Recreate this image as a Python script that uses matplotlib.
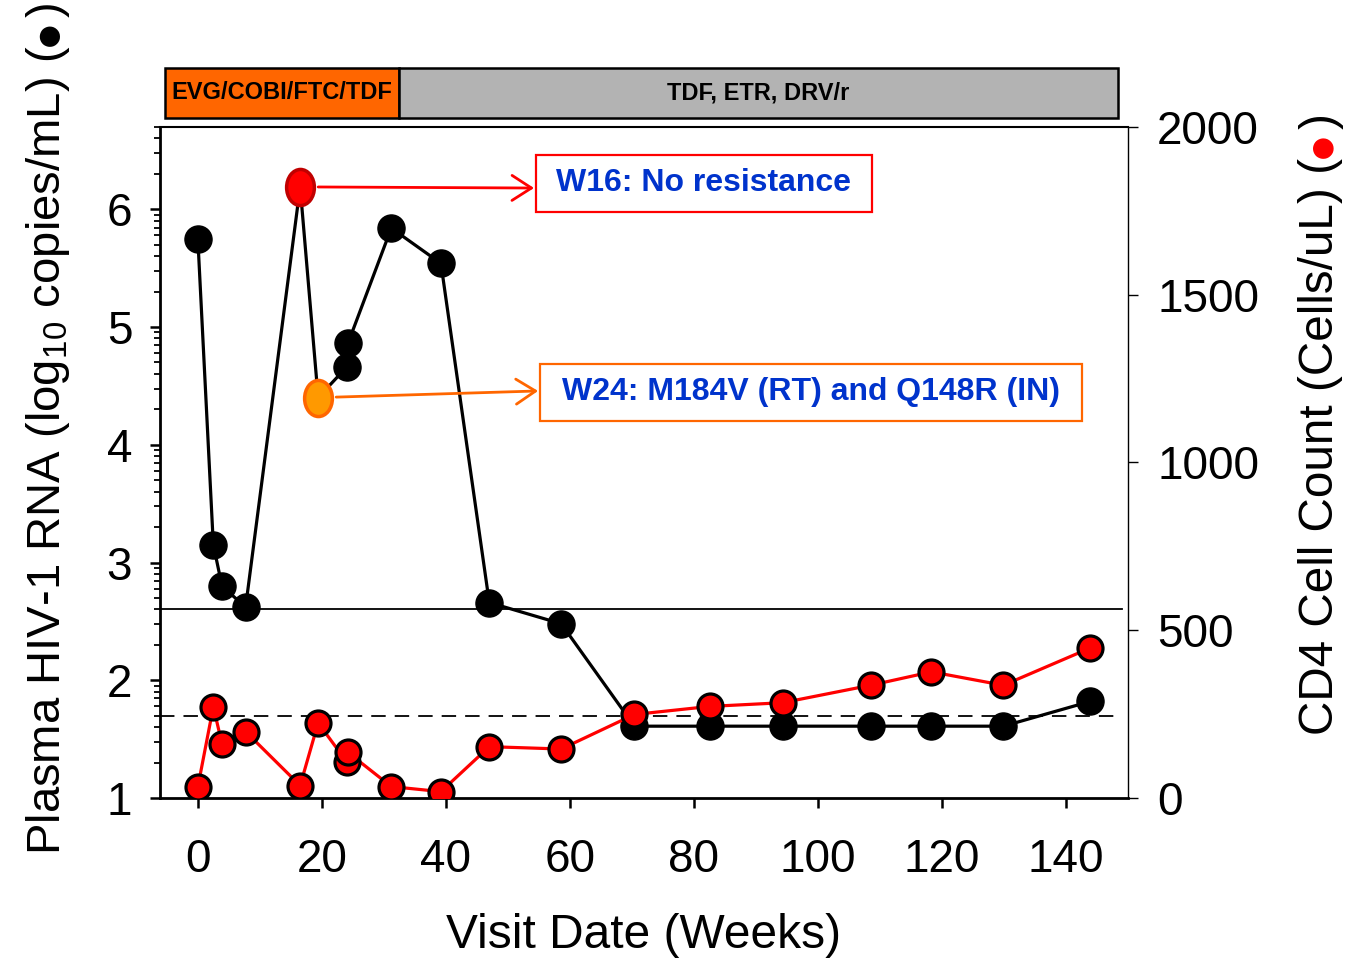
import matplotlib
matplotlib.use("Agg")
import matplotlib.pyplot as plt
import numpy as np
from matplotlib.patches import Rectangle
from matplotlib.path import Path
from matplotlib.transforms import Affine2D, blended_transform_factory

plt.rcParams['font.family'] = ['Liberation Sans', 'DejaVu Sans']
plt.rcParams['mathtext.fontset'] = 'custom'
plt.rcParams['mathtext.rm'] = 'Liberation Sans'

# visit weeks, shared by both series
weeks = [0, 2.5, 3.9, 7.7, 16.5, 19.4, 24.0, 24.2, 31.2, 39.2, 47.0, 58.6,
         70.4, 82.6, 94.3, 108.5, 118.3, 129.9, 143.9]
# plasma HIV-1 RNA, log10 copies/mL
log_vl = [5.75, 3.15, 2.80, 2.62, 6.19, 4.40, 4.66, 4.86, 5.84, 5.54, 2.66, 2.48,
          1.61, 1.61, 1.61, 1.61, 1.61, 1.61, 1.82]
# CD4 cells/uL
cd4 = [33, 272, 161, 198, 37, 224, 108, 136, 34, 19, 153, 146,
       249, 273, 284, 336, 376, 336, 447]

# genotype timepoints (index into the arrays above)
w16_idx = 4
w24_idx = 5

# treatment periods (weeks)
regimens = ["EVG/COBI/FTC/TDF", "TDF, ETR, DRV/r"]
regimen_start = [-5.3, 32.4]
regimen_end = [32.4, 148.4]
regimen_colors = ["#ff6600", "#b3b3b3"]

limit_solid = 400   # copies/mL
limit_dashed = 50   # copies/mL

fig = plt.figure(figsize=(13.48, 9.6), dpi=100)
ax = fig.add_axes([0.1187, 0.16875, 0.7181, 0.6990])
ax2 = ax.twinx()

vl = 10 ** np.array(log_vl)
ax.set_yscale('log')
ax.set_ylim(10, 5e6)
ax.set_xlim(-6.1, 150)

ax.axhline(limit_solid, xmax=0.994, color='black', lw=1.3, zorder=1)
ax.axhline(limit_dashed, xmax=0.994, color='black', lw=1.3, ls=(0, (8, 5)), zorder=1)

ax.plot(weeks, vl, color='black', lw=2.3, marker='o', ms=19.5,
        mfc='black', mec='black', zorder=3)

# ellipse markers for genotype timepoints
ell = Path.unit_circle().transformed(Affine2D().scale(1, 1.3))
ax.plot(weeks[w16_idx], vl[w16_idx], marker=ell, ms=26, mfc='#ff0000', mec='#c00000',
        mew=2.5, ls='none', zorder=5)
ax.plot(weeks[w24_idx], vl[w24_idx], marker=ell, ms=26, mfc='#ff9900', mec='#ff6600',
        mew=2.5, ls='none', zorder=5)

ax2.plot(weeks, cd4, color='#ff0000', lw=2.3, marker='o', ms=18, mfc='#ff0000',
         mec='black', mew=2.3, zorder=3)
ax2.set_ylim(0, 2000)
ax2.set_yticks([0, 500, 1000, 1500, 2000])

# ticks
ax.set_xticks(range(0, 141, 20))
ax.set_yticks([10 ** k for k in range(1, 7)])
ax.set_yticklabels([str(k) for k in range(1, 7)])
ax.yaxis.set_minor_locator(matplotlib.ticker.LogLocator(base=10, subs=np.arange(2, 10), numticks=20))
ax.yaxis.set_minor_formatter(matplotlib.ticker.NullFormatter())
ax.tick_params(axis='both', which='major', labelsize=33, direction='out', length=7, width=1.8)
ax.tick_params(axis='y', which='minor', direction='out', length=4.5, width=1.3)
ax.tick_params(axis='x', pad=22)
ax.tick_params(axis='y', pad=13)
ax2.tick_params(axis='y', labelsize=33, direction='out', length=7, width=1.0, pad=14)

for s in ['left', 'bottom']:
    ax.spines[s].set_linewidth(2.0)
ax.spines['top'].set_linewidth(1.5)
ax2.spines['top'].set_visible(False)
ax2.spines['left'].set_visible(False)
ax2.spines['bottom'].set_visible(False)
ax.spines['right'].set_visible(False)
ax2.spines['right'].set_linewidth(1.0)

ax.set_xlabel("Visit Date (Weeks)", fontsize=34.5, labelpad=22)

# treatment bar above the plot
trans = blended_transform_factory(ax.transData, ax.transAxes)
for name, x0, x1, c in zip(regimens, regimen_start, regimen_end, regimen_colors):
    ax.add_patch(Rectangle((x0, 1.0134), x1 - x0, 0.0745, transform=trans,
                           fc=c, ec='black', lw=1.8, clip_on=False))
    ax.text((x0 + x1) / 2, 1.0134 + 0.0745 / 2, name, transform=trans,
            ha='center', va='center', fontsize=17, fontweight='bold')

# annotation boxes (axes fraction) and arrows
blue = '#0033cc'
notes = [("W16: No resistance", w16_idx, '#ff0000', (0.3884, 0.8733, 0.7355, 0.9583), 0.909),
         ("W24: M184V (RT) and Q148R (IN)", w24_idx, '#ff6600', (0.3926, 0.5618, 0.9525, 0.6468), 0.6066)]
for label, idx, col, (bx0, by0, bx1, by1), ay in notes:
    ax.add_patch(Rectangle((bx0, by0), bx1 - bx0, by1 - by0, transform=ax.transAxes,
                           fc='white', ec=col, lw=1.6, zorder=6))
    ax.text((bx0 + bx1) / 2, (by0 + by1) / 2, label, transform=ax.transAxes,
            ha='center', va='center', fontsize=23, fontweight='bold', color=blue, zorder=7)
    ax.annotate('', xy=(bx0 - 0.002, ay), xycoords='axes fraction',
                xytext=(weeks[idx], vl[idx]), textcoords='data',
                arrowprops=dict(arrowstyle='->,head_length=0.7,head_width=0.45', color=col,
                                lw=2, shrinkA=13, shrinkB=0, mutation_scale=20), zorder=6)

# y labels built from pieces so the dot can be coloured
def stacked_label(x, y, pieces, size):
    fig.canvas.draw()
    r = fig.canvas.get_renderer()
    for txt, col in pieces:
        t = fig.text(x, y, txt, rotation=90, rotation_mode='anchor', ha='left', va='baseline',
                     fontsize=size, color=col)
        bb = t.get_window_extent(r)
        y = bb.y1 / fig.bbox.height

stacked_label(0.0445, 0.109, [(r"Plasma HIV-1 RNA (log$_{10}$ copies/mL) (", 'black'),
                              ("\u25cf", 'black'), (")", 'black')], 34)
stacked_label(0.989, 0.234, [("CD4 Cell Count (Cells/uL) (", 'black'),
                             ("\u25cf", '#ff0000'), (")", 'black')], 34.3)

fig.savefig("out.png", dpi=100)
